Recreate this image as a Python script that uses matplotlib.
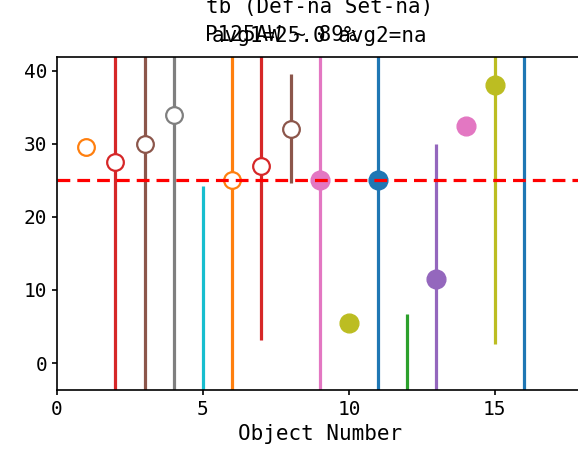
import numpy as np
import matplotlib
matplotlib.use('Agg')
from matplotlib import pyplot as plt

# object numbers and per-object values
objects = np.arange(1, 17)
centers = [29.5, 27.5, 30.0, 34.0, np.nan, 25.0, 27.0, 32.0,
           25.0, 5.5, 25.0, np.nan, 11.5, 32.5, 38.0, np.nan]
lows = [np.nan, -10, -10, -10, -10, -10, 3.1, 24.7,
        -10, np.nan, -10, -10, -10, np.nan, 2.6, -10]
highs = [np.nan, 50, 50, 50, 24.2, 50, 50, 39.5,
         50, np.nan, 50, 6.7, 30.0, np.nan, 50, 50]
filled = [False] * 8 + [True] * 8
colors = ['tab:orange', 'tab:red', 'tab:brown', 'tab:gray', 'tab:cyan',
          'tab:orange', 'tab:red', 'tab:brown', 'tab:pink', 'tab:olive',
          'tab:blue', 'tab:green', 'tab:purple', 'tab:pink', 'tab:olive',
          'tab:blue']
reference = 25.0

plt.rcParams['font.family'] = ['DejaVu Sans Mono']

fig = plt.figure(figsize=(5.78, 4.66), dpi=100)
ax = fig.add_axes([0.0986, 0.163, 0.909, 0.715])

for x, c, lo, hi, f, col in zip(objects, centers, lows, highs, filled, colors):
    if not np.isnan(lo):
        ax.vlines(x, lo, hi, color=col, lw=2.3)
    if not np.isnan(c):
        if f:
            ax.plot(x, c, 'o', color=col, ms=13.5)
        else:
            ax.plot(x, c, 'o', mfc='white', mec=col, mew=1.6, ms=12)

ax.axhline(reference, color='red', lw=2.3, ls=(0, (4, 2.2)))

ax.set_xlim(0, 18)
ax.set_ylim(-3.7, 41.9)
ax.set_xticks([0, 5, 10, 15])
ax.set_yticks([0, 10, 20, 30, 40])
ax.tick_params(labelsize=14, width=1.2)
for s in ax.spines.values():
    s.set_linewidth(1.2)

ax.set_xlabel('Object Number', fontsize=15)
ax.set_title('tb (Def-na Set-na)\navg1=25.0 avg2=na', fontsize=15, pad=11,
             linespacing=1.55)
fig.text(0.485, 0.925, 'P125AW ~ 89%', fontsize=15, ha='center', va='center')

plt.savefig('out.png', dpi=100)
plt.close(fig)
